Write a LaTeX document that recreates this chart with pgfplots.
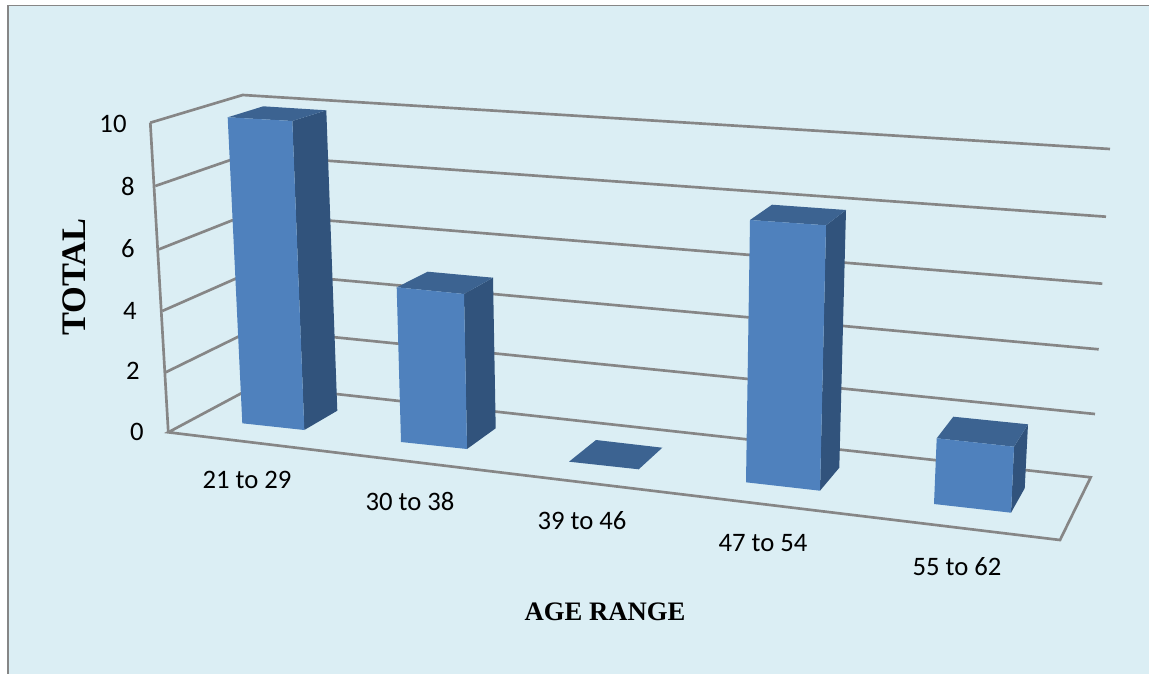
\documentclass[border=0pt]{standalone}
\usepackage{fontspec}
\setmainfont{Carlito}
\newfontfamily\titlefont{Liberation Serif}
\usepackage{pgfplots}
\pgfplotsset{compat=1.18}
\definecolor{panel}{HTML}{DBEEF4}
\definecolor{framegray}{HTML}{868686}
\definecolor{barfront}{HTML}{4F81BD}
\definecolor{barside}{HTML}{31537C}
\definecolor{bartop}{HTML}{3C6391}
\pgfplotsset{
  wall/.style={draw=framegray, line width=2pt, line join=miter},
  front/.style={fill=barfront, draw=none},
  side/.style={fill=barside, draw=none},
  top/.style={fill=bartop, draw=none},
}
\begin{document}
\begin{tikzpicture}
% The plane is laid out in projected coordinates, y running downward,
% because the chart is an oblique perspective view.
\begin{axis}[
  scale only axis, width=861.75pt, height=505.5pt,
  xmin=0, xmax=1149, ymin=0, ymax=674, y dir=reverse,
  hide axis,
]
% white page margin, then the panel and its border
\addplot[fill=white, draw=none] coordinates {(0,0) (1149,0) (1149,674) (0,674)};
\addplot[fill=panel, draw=none] coordinates {(8,6) (1149,6) (1149,674) (8,674)};
\addplot[draw=framegray, line width=1.1pt] coordinates {(7.5,674) (7.5,5.5) (1149,5.5)};
\addplot[draw=framegray, line width=1.6pt] coordinates {(8,6) (8,674)};

% side wall with its gridlines, 10 down to 0
\addplot[wall] coordinates {(150.3,122.7) (242.7,95) (1110,149)};
\addplot[wall] coordinates {(155.3,186) (245.5,154.8) (1106,216.7)};
\addplot[wall] coordinates {(159,249.3) (248.3,214) (1102.3,283.7)};
\addplot[wall] coordinates {(162.3,311) (251,271.9) (1098.7,349.3)};
\addplot[wall] coordinates {(165.7,372.3) (253.8,329.1) (1095,414)};
% front edge of the wall and the floor
\addplot[wall] coordinates {(150.3,122.7) (168.3,432.3)};
\addplot[wall] coordinates {(256.4,385.2) (168.3,432.3) (1060,540) (1090.7,477.3) (256.4,385.2)};

% 21 to 29
\addplot[side] coordinates {(292.3,121) (326.3,110.3) (337.3,410.7) (304.3,430)};
\addplot[top] coordinates {(227.7,117.3) (263.3,106.3) (326.3,110.3) (292.3,121)};
\addplot[front] coordinates {(227.7,117.3) (292.3,121) (304.3,430) (242.3,423.3)};
% 30 to 38
\addplot[side] coordinates {(464,294) (493,277.7) (495.7,428.3) (467,449)};
\addplot[top] coordinates {(396.7,287.3) (427.7,271.7) (493,277.7) (464,294)};
\addplot[front] coordinates {(396.7,287.3) (464,294) (467,449) (401,442)};
% 39 to 46, a zero-height bar showing only its top
\addplot[top] coordinates {(569,461.7) (596,440) (662.3,447.7) (638.7,469.3)};
% 47 to 54
\addplot[side] coordinates {(826,225.3) (846,210) (839.3,467.7) (820,490.7)};
\addplot[top] coordinates {(750,220) (772,204.7) (846,210) (826,225.3)};
\addplot[front] coordinates {(750,220) (826,225.3) (820,490.7) (746,482.3)};
% 55 to 62
\addplot[side] coordinates {(1014,446.7) (1028,424.3) (1024.7,488.3) (1011,512.7)};
\addplot[top] coordinates {(936.7,438.3) (953.3,416.7) (1028,424.3) (1014,446.7)};
\addplot[front] coordinates {(936.7,438.3) (1014,446.7) (1011,512.7) (934,504)};

% value scale
\foreach \v/\x/\y in {10/113/123.7, 8/128/186, 6/128/249, 4/130/311, 2/133/371, 0/137/432}{
  \edef\tmp{\noexpand\node[font=\noexpand\fontsize{20}{24}\noexpand\selectfont, text=black, inner sep=0pt]
    at (axis cs:\x,\y) {\v};}\tmp
}
% age groups
\foreach \t/\x/\y in {21 to 29/247/480, 30 to 38/410/501, 39 to 46/582/521, 47 to 54/763/543, 55 to 62/957/567}{
  \edef\tmp{\noexpand\node[font=\noexpand\fontsize{20}{24}\noexpand\selectfont, text=black, inner sep=0pt]
    at (axis cs:\x,\y) {\t};}\tmp
}
% axis titles
\node[font=\titlefont\bfseries\fontsize{20}{24}\selectfont, inner sep=0pt] at (axis cs:605,612) {AGE RANGE};
\node[font=\titlefont\bfseries\fontsize{25.8}{28}\selectfont, inner sep=0pt, rotate=90] at (axis cs:74,277) {TOTAL};
\end{axis}
\end{tikzpicture}
\end{document}
